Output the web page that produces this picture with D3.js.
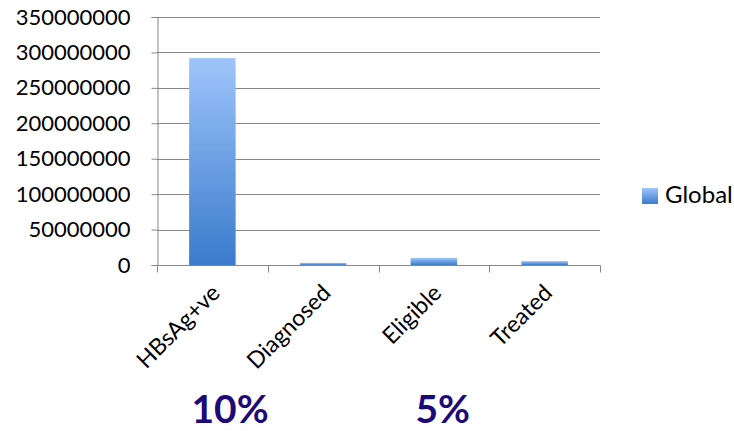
<!DOCTYPE html>
<html><head><meta charset="utf-8">
<script src="https://cdn.jsdelivr.net/npm/d3@7"></script>
<style>
body{margin:0;background:#fff;}
svg{display:block;font-family:Lato,"Open Sans",sans-serif;}
</style></head>
<body><svg id="c" width="734" height="431"></svg>
<script>
const categories = ["HBsAg+ve","Diagnosed","Eligible","Treated"];
const globalValues = [292000000, 3000000, 10000000, 5500000];
const yTicks = [0,50000000,100000000,150000000,200000000,250000000,300000000,350000000];
const seriesName = "Global";
const annotations = [{text:"10%", at:0.66}, {text:"5%", at:2.58}];

const svg = d3.select("#c");
const m = {l:157, r:600, t:17, b:265};
const x = d3.scaleBand().domain(categories).range([m.l, m.r]).paddingInner(0.58).paddingOuter(0.29);
const xb = d3.scaleBand().domain(categories).range([m.l, m.r]);
const y = d3.scaleLinear().domain([0,350000000]).range([m.b, m.t]);

const defs = svg.append("defs");
const g = defs.append("linearGradient").attr("id","grad").attr("x1",0).attr("y1",0).attr("x2",0).attr("y2",1);
g.append("stop").attr("offset","0%").attr("stop-color","#9ec5fb");
g.append("stop").attr("offset","100%").attr("stop-color","#3a7bcc");

// gridlines
svg.append("g").selectAll("line").data(yTicks).join("line")
  .attr("x1",m.l).attr("x2",m.r).attr("y1",d=>Math.round(y(d))+0.5).attr("y2",d=>Math.round(y(d))+0.5)
  .attr("stroke","#878787").attr("stroke-width",1);

// y axis
const ya = svg.append("g").attr("transform",`translate(${m.l+0.5},0)`)
  .call(d3.axisLeft(y).tickValues(yTicks).tickSize(6).tickPadding(21).tickFormat(d3.format("d")));
ya.select(".domain").attr("stroke","#878787");
ya.selectAll(".tick line").attr("stroke","#878787");
ya.selectAll(".tick text").attr("font-size",22).attr("fill","#000").attr("font-family","Lato, sans-serif");

// bars
svg.append("g").selectAll("rect").data(categories).join("rect")
  .attr("x",d=>x(d)).attr("width",x.bandwidth())
  .attr("y",(d,i)=>y(globalValues[i])).attr("height",(d,i)=>m.b-y(globalValues[i]))
  .attr("fill","url(#grad)");

// x axis
const xa = svg.append("g").attr("transform",`translate(0,${m.b+0.5})`);
xa.append("line").attr("x1",m.l).attr("x2",m.r+0.5).attr("stroke","#878787");
const bounds = categories.map(c=>xb(c)).concat([m.r]);
xa.selectAll("line.t").data(bounds).join("line").attr("class","t")
  .attr("x1",d=>Math.round(d)+0.5).attr("x2",d=>Math.round(d)+0.5).attr("y1",0).attr("y2",7).attr("stroke","#878787");
xa.selectAll("text").data(categories).join("text")
  .attr("transform",d=>`translate(${xb(d)+xb.bandwidth()/2+9},${29}) rotate(-45)`)
  .attr("text-anchor","end").attr("font-size",23).attr("fill","#000").text(d=>d);

// legend
const lg = svg.append("g").attr("transform","translate(642,188)");
lg.append("rect").attr("width",16).attr("height",16).attr("fill","url(#grad)");
lg.append("text").attr("x",23).attr("y",15).attr("font-size",24).attr("fill","#000").text(seriesName);

// annotations
svg.append("g").selectAll("text").data(annotations).join("text")
  .attr("x",d=>xb(categories[0]) + xb.bandwidth()*d.at)
  .attr("y",423).attr("text-anchor","middle").attr("font-size",39).attr("font-weight","bold")
  .attr("fill","#1d0a78").text(d=>d.text);
</script></body></html>
